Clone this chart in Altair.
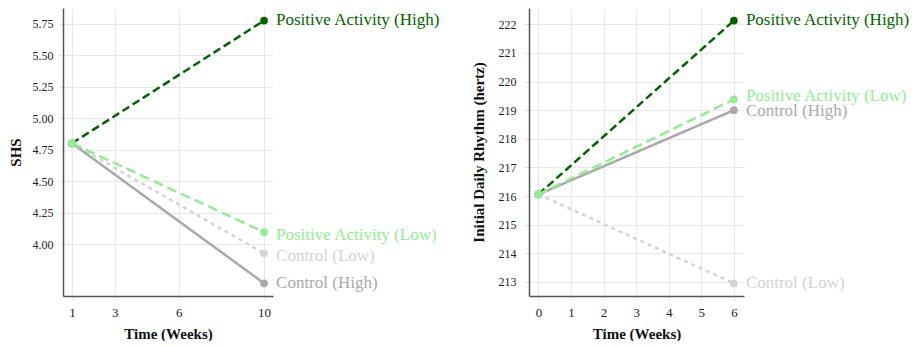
import altair as alt
import pandas as pd

series = ["Positive Activity (High)", "Control (Low)", "Control (High)", "Positive Activity (Low)"]
colors = ["#006400", "#d3d3d3", "#a9a9a9", "#90ee90"]
dashes = [[8, 4], [4, 4], [1, 0], [10, 5]]

# Left panel (SHS)
shs_weeks = [1, 10]
shs_start = [4.80, 4.80, 4.80, 4.80]
shs_end = [5.775, 3.926, 3.688, 4.095]

# Right panel (Initial Daily Rhythm)
idr_weeks = [0, 6]
idr_start = [216.06, 216.06, 216.06, 216.06]
idr_end = [222.13, 212.95, 219.0, 219.38]

FONT = "Liberation Serif"


def long_df(weeks, starts, ends):
    rows = []
    for i, s in enumerate(series):
        rows.append({"series": s, "t": weeks[0], "v": starts[i], "ord": i})
        rows.append({"series": s, "t": weeks[1], "v": ends[i], "ord": i})
    return pd.DataFrame(rows)


color_scale = alt.Scale(domain=series, range=colors)
dash_scale = alt.Scale(domain=series, range=dashes)


def panel(weeks, starts, ends, xdom, ydom, xvals, yvals, yfmt, ytitle, w, h, lpad, tpad, shifts):
    df = long_df(weeks, starts, ends)
    end_df = df[df["t"] == weeks[1]]
    x = alt.X("t:Q", scale=alt.Scale(domain=xdom, nice=False, zero=False),
              axis=alt.Axis(values=xvals, title="Time (Weeks)", format="d"))
    y = alt.Y("v:Q", scale=alt.Scale(domain=ydom, nice=False, zero=False),
              axis=alt.Axis(values=yvals, title=ytitle, format=yfmt,
                            labelPadding=lpad, titlePadding=tpad))
    base = alt.Chart(df)
    lines = base.mark_line(strokeWidth=2.5).encode(
        x=x, y=y,
        color=alt.Color("series:N", scale=color_scale, legend=None),
        strokeDash=alt.StrokeDash("series:N", scale=dash_scale, legend=None),
        detail="series:N",
        order=alt.Order("ord:Q"),
    )
    pts = base.mark_circle(size=60, opacity=1).encode(
        x=x, y=y,
        color=alt.Color("series:N", scale=color_scale, legend=None),
        order=alt.Order("ord:Q"),
    )
    layers = [lines, pts]
    for s in series:
        layers.append(
            alt.Chart(end_df).transform_filter(alt.datum.series == s).mark_text(
                align="left", baseline="middle", dx=12, dy=shifts.get(s, 0),
                fontSize=17, font=FONT).encode(
                x=x, y=y, text="series:N",
                color=alt.Color("series:N", scale=color_scale, legend=None),
            )
        )
    return alt.layer(*layers).properties(width=w, height=h)


left = panel(shs_weeks, shs_start, shs_end, [0.58, 10.42], [3.587, 5.875],
             [1, 3, 6, 10], [4.0, 4.25, 4.5, 4.75, 5.0, 5.25, 5.5, 5.75], ".2f",
             "SHS", 210, 288, 6, 9,
             {"Positive Activity (High)": -1, "Positive Activity (Low)": 3, "Control (Low)": 3})
right = panel(idr_weeks, idr_start, idr_end, [-0.29, 6.31], [212.51, 222.57],
              [0, 1, 2, 3, 4, 5, 6], list(range(213, 223)), "d",
              "Initial Daily Rhythm (hertz)", 215, 288, 9, 12,
              {"Positive Activity (High)": -1, "Positive Activity (Low)": -3, "Control (High)": 1})

chart = alt.hconcat(left, right, spacing=30).properties(padding=0).configure_view(
    stroke=None
).configure_axis(
    labelFont=FONT, labelFontSize=12, labelColor="#222",
    titleFont=FONT, titleFontSize=15, titleFontWeight="bold", titleColor="#111",
    domainColor="#555", domainWidth=1.5,
    gridColor="#e8e8e8", tickColor="#e0e0e0", tickSize=4,
).configure_axisX(titlePadding=7, labelPadding=6, labelFontSize=13)

chart.save("out.html", embed_options={"renderer": "svg", "actions": False})
